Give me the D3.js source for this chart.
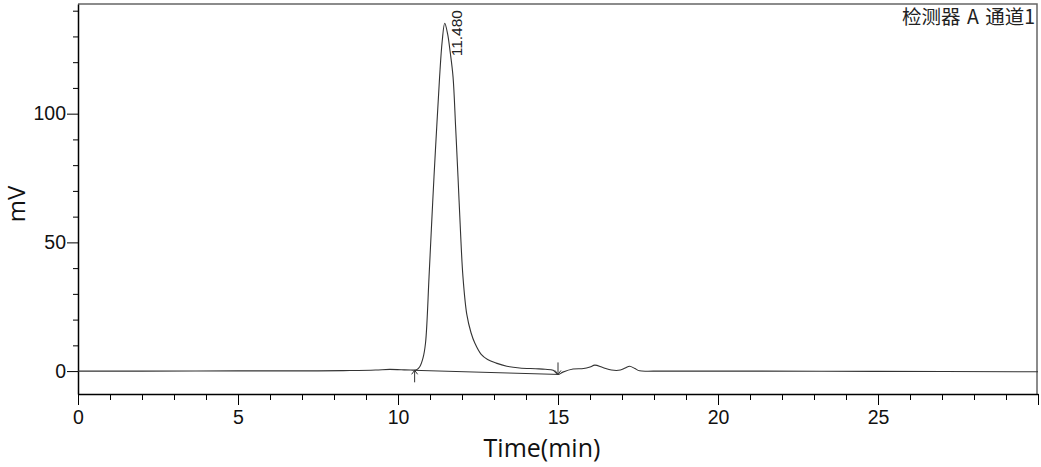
<!DOCTYPE html>
<html>
<head>
<meta charset="utf-8">
<script src="https://cdn.jsdelivr.net/npm/d3@7"></script>
<style>
  body { margin: 0; background: #fff; }
  text { font-family: Arial, "Liberation Sans", sans-serif; }
</style>
</head>
<body>
<div id="one"></div>
<script>
// chromatogram signal (min, mV)
var times = [0, 2, 5, 7.5, 8.5, 9.3, 9.74, 10.1, 10.4, 10.58, 10.68, 10.78, 10.86, 10.97, 11.05, 11.125, 11.22, 11.30, 11.38, 11.46, 11.55, 11.63, 11.72, 11.80, 11.875, 11.95, 12.03, 12.15, 12.28, 12.40, 12.6, 12.8, 13.07, 13.4, 13.8, 14.3, 14.6, 14.85, 15.0, 15.15, 15.47, 15.8, 16.0, 16.15, 16.4, 16.67, 16.95, 17.1, 17.24, 17.4, 17.55, 18, 20, 25, 30]
var signal = [0, 0, 0.1, 0.1, 0.2, 0.4, 0.65, 0.5, 0.4, 0.5, 1.7, 5, 10.9, 36.6, 57, 75.5, 97, 114.3, 128, 135.1, 131, 124, 114.3, 95, 75.5, 55, 36.6, 22, 15, 10.9, 6.5, 4.5, 3.1, 1.9, 1.2, 0.9, 0.7, 0.3, -1.3, -0.4, 0.8, 1.0, 1.6, 2.3, 1.4, 0.4, 0.4, 1.2, 1.9, 1.0, 0.1, 0.0, 0.0, -0.1, -0.25]

// integration baseline (start / end)
var baseTimes = [10.52, 15.0]
var baseValues = [0.3, -1.3]

var peakTime = 11.48
var peakHeight = 135.1
var peakLabel = "11.480"

var xMajor = [0, 5, 10, 15, 20, 25]
var yMajor = [0, 50, 100]
var channelLabel = "检测器 A 通道1"

var W = 1041, H = 467
var margin = {left: 78, right: 4, top: 4, bottom: 73}

var svg = d3.select('#one')
  .append('svg')
  .attr("width", W)
  .attr("height", H)

var x = d3.scaleLinear()
  .domain([0, 30])
  .range([margin.left, 1038])
var y = d3.scaleLinear()
  .domain([-8.9, 142.6])
  .range([H - margin.bottom, margin.top])

// frame
svg.append("path")
  .attr("fill", "none")
  .attr("stroke", "#666")
  .attr("stroke-width", 1.5)
  .attr("d", `M${margin.left},${margin.top}H1037V${H - margin.bottom}`)

var xAxis = g => g
  .attr("transform", `translate(0,${H - margin.bottom})`)
  .call(d3.axisBottom(x).tickValues(d3.range(0, 31, 1))
    .tickSize(6).tickSizeOuter(0)
    .tickFormat(d => xMajor.indexOf(d) > -1 ? d : ""))
  .call(g => g.selectAll(".tick line")
    .attr("y2", d => xMajor.indexOf(d) > -1 || d == 30 ? 11 : 6))
  .call(g => g.selectAll(".tick text").attr("y", 16))

var yAxis = g => g
  .attr("transform", `translate(${margin.left},0)`)
  .call(d3.axisLeft(y).tickValues(d3.range(0, 141, 10))
    .tickSize(5).tickSizeOuter(0)
    .tickFormat(d => yMajor.indexOf(d) > -1 ? d : ""))
  .call(g => g.selectAll(".tick line")
    .attr("x2", d => yMajor.indexOf(d) > -1 ? -11 : -5))
  .call(g => g.selectAll(".tick text").attr("x", -12))

svg.append("g")
  .style("font-size", "19.5px")
  .call(xAxis)
  .call(g => g.select(".domain").attr("stroke-width", 1.5))
svg.append("g")
  .style("font-size", "19.5px")
  .call(yAxis)
  .call(g => g.select(".domain").attr("stroke-width", 1.5))

svg.selectAll(".tick text").attr("fill", "#111")

// signal
var line = d3.line()
  .x((d, i) => x(times[i]))
  .y(d => y(d))
  .curve(d3.curveCatmullRom)

svg.append("path")
  .datum(signal)
  .attr("fill", "none")
  .attr("stroke", "#333")
  .attr("stroke-width", 1.1)
  .attr("d", line)

// baseline
svg.append("line")
  .attr("x1", x(baseTimes[0])).attr("y1", y(baseValues[0]))
  .attr("x2", x(baseTimes[1])).attr("y2", y(baseValues[1]))
  .attr("stroke", "#333")
  .attr("stroke-width", 1)

// start arrow (pointing up) and end arrow (pointing down)
function arrow(px, py, dir) {
  var len = 12 * dir
  svg.append("path")
    .attr("fill", "none")
    .attr("stroke", "#333")
    .attr("stroke-width", 1)
    .attr("d", `M${px},${py + len}V${py}M${px - 3},${py + 4 * dir}L${px},${py}L${px + 3},${py + 4 * dir}`)
}
arrow(x(baseTimes[0]), y(baseValues[0]), 1)
arrow(x(baseTimes[1]), y(baseValues[1]), -1)

// peak label
svg.append("text")
  .attr("transform", `translate(${x(peakTime) + 17},${y(peakHeight) + 33}) rotate(-90)`)
  .style("font-size", "15.5px")
  .attr("fill", "#222")
  .text(peakLabel)

// channel label
svg.append("text")
  .attr("x", 1035).attr("y", 24)
  .attr("text-anchor", "end")
  .style("font-family", "'Noto Sans CJK SC', sans-serif")
  .style("font-size", "19.5px")
  .style("word-spacing", "2px")
  .attr("fill", "#222")
  .text(channelLabel)

// axis titles
svg.append("text")
  .attr("x", 542).attr("y", 457)
  .attr("text-anchor", "middle")
  .style("font-family", "'Open Sans', sans-serif")
  .style("font-size", "25px")
  .attr("fill", "#111")
  .text("Time(min)")

svg.append("text")
  .attr("transform", "translate(25,204) rotate(-90)")
  .attr("text-anchor", "middle")
  .style("font-family", "'Open Sans', sans-serif")
  .style("font-size", "24px")
  .attr("fill", "#111")
  .text("mV")
</script>
</body>
</html>
